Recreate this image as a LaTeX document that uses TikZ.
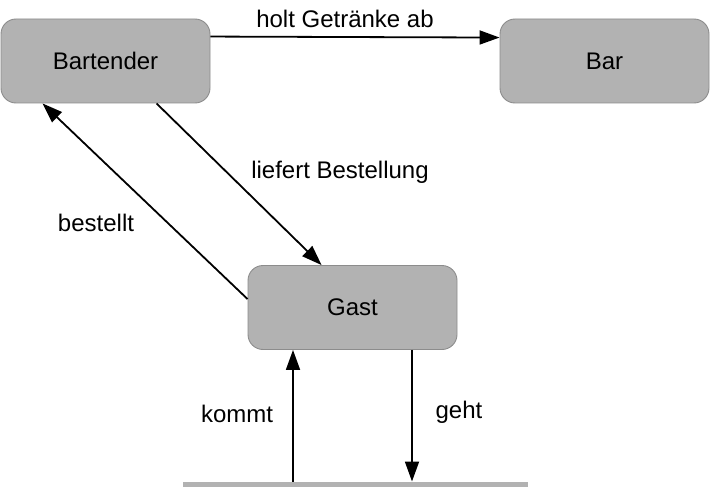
\documentclass[tikz,border=0pt]{standalone}
\usepackage{fontspec}
\setmainfont{Liberation Sans}
\usetikzlibrary{arrows.meta,calc}

\tikzset{
    box/.style={draw=black!45, fill=black!30, line width=0.9pt, rounded corners=15pt,
        minimum width=209pt, minimum height=84pt, inner sep=0pt},
    pfeil/.style={line width=1.8pt, -{Triangle[length=20pt,width=14pt]}},
    beschr/.style={inner sep=0pt}
}

\begin{document}
\begin{tikzpicture}[x=1pt,y=-1pt,font=\fontsize{24}{28}\selectfont]
    \useasboundingbox (0,0) rectangle (710,487);

    % Kaesten
    \node[box] (bartender) at (105.5,61) {Bartender};
    \node[box] (bar) at (604.5,61) {Bar};
    \node[box] (gast) at (352.5,307.5) {Gast};

    % Boden
    \coordinate (boden_l) at (183,484);
    \coordinate (boden_r) at (528,484);
    \draw[black!30, line width=5pt] (boden_l) -- (boden_r);

    % Pfeile
    \draw[pfeil] ($(bartender.north east)+(0,18)$) -- ($(bar.north west)+(0,19)$);
    \draw[pfeil] ($(bartender.south west)+(156,0)$) -- ($(gast.north west)+(74,0)$);
    \draw[pfeil] ($(gast.north west)+(0,34)$) -- ($(bartender.south west)+(42,0)$);
    \coordinate (kommt_s) at (293,481.5);
    \draw[pfeil] (kommt_s) -- (kommt_s |- gast.south);
    \coordinate (geht_e) at (412,481.5);
    \draw[pfeil] (geht_e |- gast.south) -- (geht_e);

    % Beschriftungen
    \node[beschr] (holt) at (345,18.5) {holt Getränke ab};
    \node[beschr] (liefert) at (340,172.5) {liefert Bestellung};
    \node[beschr] (bestellt) at (96,222.5) {bestellt};
    \node[beschr] (kommt) at (237,413.5) {kommt};
    \node[beschr] (geht) at (459,412.5) {geht};

\end{tikzpicture}
\end{document}
